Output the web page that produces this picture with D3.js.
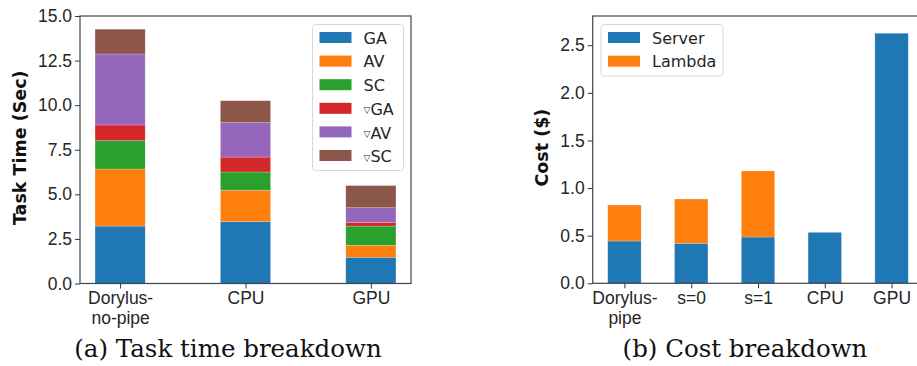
<!DOCTYPE html>
<html>
<head>
<meta charset="utf-8">
<script src="https://cdn.jsdelivr.net/npm/d3@7"></script>
<style>
  body { margin: 0; background: #fff; }
  svg { display: block; font-family: "DejaVu Sans", sans-serif; }
</style>
</head>
<body>
<div class="svg-wrapper"></div>
<script>
// left chart: task time breakdown
var timeCats   = ["Dorylus-\nno-pipe", "CPU", "GPU"];
var timeSeries = ["GA", "AV", "SC", "∇GA", "∇AV", "∇SC"];
var timeGA  = [3.22, 3.47, 1.47];
var timeAV  = [3.20, 1.76, 0.67];
var timeSC  = [1.59, 1.02, 1.08];
var timeDGA = [0.88, 0.84, 0.21];
var timeDAV = [3.98, 1.93, 0.82];
var timeDSC = [1.39, 1.23, 1.24];
var timeTicks = [0, 2.5, 5, 7.5, 10, 12.5, 15];

// right chart: cost breakdown
var costCats   = ["Dorylus-\npipe", "s=0", "s=1", "CPU", "GPU"];
var costSeries = ["Server", "Lambda"];
var costServer = [0.444, 0.42, 0.486, 0.535, 2.626];
var costLambda = [0.378, 0.465, 0.694, 0, 0];
var costTicks  = [0, 0.5, 1, 1.5, 2, 2.5];

var colors = ["#1f77b4", "#ff7f0e", "#2ca02c", "#d62728", "#9467bd", "#8c564b"];

var svg = d3.select(".svg-wrapper").append("svg")
  .attr("width", 917)
  .attr("height", 366);

function drawPanel(o) {
  var g = svg.append("g");
  var x = d3.scaleLinear().domain(o.xDomain).range([o.left, o.right]);
  var y = d3.scaleLinear().domain(o.yDomain).range([o.bottom, o.top]);

  var rows = o.cats.map(function(c, i) {
    var r = {cat: c, i: i};
    o.series.forEach(function(s, k) { r[s] = o.values[k][i]; });
    return r;
  });
  var stacked = d3.stack().keys(o.series)(rows);

  g.selectAll("g.layer").data(stacked).enter().append("g")
    .attr("class", "layer")
    .attr("fill", function(d, k) { return colors[k]; })
    .selectAll("rect").data(function(d) { return d; }).enter().append("rect")
      .filter(function(d) { return d[1] - d[0] > 0; })
      .attr("x", function(d) { return x(d.data.i - o.barW / 2); })
      .attr("width", function(d) { return x(o.barW) - x(0); })
      .attr("y", function(d) { return y(d[1]); })
      .attr("height", function(d) { return y(d[0]) - y(d[1]); })
      .attr("stroke", "#fff").attr("stroke-opacity", 0.35).attr("stroke-width", 0.6);

  // y axis
  var ya = g.append("g").attr("transform", "translate(" + o.left + ",0)")
    .call(d3.axisLeft(y).tickValues(o.yTicks).tickFormat(d3.format(".1f")).tickSize(5).tickPadding(3));
  ya.select(".domain").remove();
  ya.selectAll("line").attr("stroke", "#333");
  ya.selectAll("text").attr("fill", "#262626").style("font-size", "17.5px");

  // x axis
  var xa = g.append("g").attr("transform", "translate(0," + o.bottom + ")")
    .call(d3.axisBottom(x).tickValues(d3.range(o.cats.length)).tickSize(5).tickPadding(3)
      .tickFormat(function(d) { return o.cats[d]; }));
  xa.select(".domain").remove();
  xa.selectAll("line").attr("stroke", "#333");
  xa.selectAll("text").attr("fill", "#262626").style("font-size", "17.5px")
    .each(function(d) {
      var t = d3.select(this), lines = o.cats[d].split("\n");
      t.text(null);
      lines.forEach(function(l, j) {
        t.append("tspan").attr("x", 0).attr("dy", j === 0 ? "0.71em" : "1.15em").text(l);
      });
    });

  // frame
  g.append("rect")
    .attr("x", o.left).attr("y", o.top)
    .attr("width", o.right - o.left).attr("height", o.bottom - o.top)
    .attr("fill", "none").attr("stroke", "#444").attr("stroke-width", 1.2);

  // y label
  g.append("text")
    .attr("transform", "translate(" + o.ylabX + "," + ((o.top + o.bottom) / 2 - 2) + ") rotate(-90)")
    .attr("text-anchor", "middle")
    .attr("font-weight", "bold")
    .style("font-size", "17.5px")
    .attr("fill", "#111")
    .text(o.ylabel);

  // legend
  var L = o.legend;
  var leg = g.append("g");
  leg.append("rect")
    .attr("x", L.x).attr("y", L.y).attr("width", L.w).attr("height", L.h)
    .attr("rx", 3).attr("fill", "#fff").attr("fill-opacity", 0.85)
    .attr("stroke", "#d8d8d8");
  o.series.forEach(function(s, k) {
    var cy = L.y + 13 + k * L.step;
    leg.append("rect")
      .attr("x", L.x + 7).attr("y", cy - 5.5).attr("width", 32).attr("height", 11)
      .attr("fill", colors[k]);
    var t = leg.append("text")
      .attr("x", L.x + 51).attr("y", cy + 6)
      .style("font-size", "16px").attr("fill", "#262626");
    if (s.charAt(0) === "∇") {
      t.append("tspan").style("font-size", "9px").attr("dy", "-0.1em").text("▽");
      t.append("tspan").attr("dy", "0.1em").text(s.slice(1));
    } else {
      t.text(s);
    }
  });

  // caption
  svg.append("text")
    .attr("x", o.capX).attr("y", 357)
    .attr("text-anchor", "middle")
    .style("font-family", "'DejaVu Serif', serif")
    .style("font-size", "24.5px")
    .attr("fill", "#111")
    .text(o.caption);
}

drawPanel({
  cats: timeCats, series: timeSeries,
  values: [timeGA, timeAV, timeSC, timeDGA, timeDAV, timeDSC],
  xDomain: [-0.32, 2.32], yDomain: [0, 15], yTicks: timeTicks, barW: 0.4,
  left: 80, right: 411, top: 16, bottom: 283.5,
  ylabel: "Task Time (Sec)", ylabX: 26,
  legend: {x: 312.5, y: 24.5, w: 91, h: 146, step: 23.6},
  caption: "(a) Task time breakdown", capX: 228
});

drawPanel({
  cats: costCats, series: costSeries,
  values: [costServer, costLambda],
  xDomain: [-0.475, 4.475], yDomain: [0, 2.807], yTicks: costTicks, barW: 0.5,
  left: 592.7, right: 923.3, top: 16, bottom: 283.3,
  ylabel: "Cost ($)", ylabX: 548,
  legend: {x: 601, y: 24.5, w: 122, h: 51.5, step: 23.7},
  caption: "(b) Cost breakdown", capX: 745
});
</script>
</body>
</html>
